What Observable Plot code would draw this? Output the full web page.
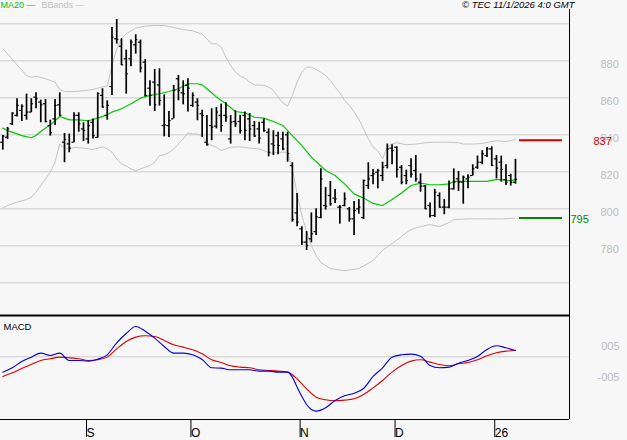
<!DOCTYPE html>
<html><head><meta charset="utf-8">
<script src="https://cdn.jsdelivr.net/npm/d3@7"></script>
<script src="https://cdn.jsdelivr.net/npm/@observablehq/plot@0.6"></script>
<style>
html,body{margin:0;padding:0;background:#f7f7f7;}
#chart{position:relative;width:627px;height:440px;background:#f7f7f7;overflow:hidden;font-family:"Liberation Sans",Arial,sans-serif;}
#chart svg{position:absolute;left:0;}
</style></head><body><div id="chart"></div>
<script>
// ---- OHLC bars (one per trading day, index 0 = first bar) ----
const open  = [836.0,838.7,846.0,850.5,853.2,850.5,852.3,860.4,857.7,856.8,845.0,848.6,856.2,836.0,835.1,836.0,850.5,843.2,837.8,846.8,838.6,861.3,850.5,866.1,891.9,887.9,881.1,881.1,888.6,890.1,879.3,865.2,868.5,867.0,845.0,845.0,848.6,870.3,862.7,866.7,855.9,857.7,851.4,836.0,845.0,844.7,850.5,850.5,837.8,847.2,847.2,850.5,848.6,845.0,843.2,846.8,841.4,835.1,839.6,837.8,840.0,823.4,797.8,789.2,782.0,783.8,787.7,795.3,801.8,807.2,805.8,800.9,801.8,800.0,794.6,800.0,795.3,812.6,818.0,819.8,818.0,823.4,832.8,833.3,822.5,818.0,823.4,820.7,814.4,812.3,801.8,796.4,807.2,800.9,800.9,810.8,816.2,814.4,816.2,818.0,822.5,825.2,828.8,832.4,827.0,825.2,815.8,818.0,814.4];
const high  = [839.6,844.0,851.9,859.5,856.2,862.0,859.5,862.7,858.7,859.1,847.9,859.1,862.7,840.7,840.4,851.9,851.9,846.5,847.7,848.6,862.7,864.9,858.4,898.0,902.3,891.9,885.8,891.2,894.1,891.2,880.7,869.2,875.3,875.7,861.6,852.6,866.7,872.1,869.2,870.3,862.7,859.5,853.3,850.5,854.1,854.8,856.6,857.3,850.5,853.0,850.5,852.3,851.5,847.2,846.8,848.6,843.2,842.2,841.4,841.4,841.4,824.9,808.3,790.3,787.7,797.8,800.0,821.6,811.5,814.8,810.5,801.8,808.6,800.7,804.0,805.0,815.5,824.9,821.3,821.3,825.2,835.0,834.6,833.5,823.4,820.9,827.0,828.8,818.9,812.6,803.2,810.5,808.6,805.0,815.1,821.6,820.2,817.7,818.4,823.8,828.5,831.4,833.2,833.5,828.8,828.5,823.8,818.7,826.7];
const low   = [831.7,837.5,845.0,849.6,847.2,847.9,851.9,854.1,846.5,846.5,839.3,845.0,850.1,824.9,830.3,835.7,841.4,836.4,835.0,837.8,838.2,854.4,847.9,861.3,889.0,877.5,862.0,876.8,883.6,873.5,860.5,855.5,852.6,855.5,838.9,838.6,848.6,858.4,856.2,852.3,854.8,847.6,838.6,833.9,836.8,843.2,841.4,846.8,835.0,844.0,840.4,836.8,836.4,838.6,835.0,841.4,828.1,828.8,829.2,831.4,825.2,792.8,790.3,780.2,777.5,781.6,785.6,794.6,799.3,801.4,802.9,791.7,801.1,792.8,785.6,797.1,794.2,810.5,813.0,810.8,814.8,821.6,823.8,816.6,813.0,813.0,816.6,814.4,809.0,799.6,795.0,795.3,800.4,796.8,800.0,810.1,809.4,802.5,810.8,817.7,821.3,823.8,827.7,823.1,816.2,814.4,812.6,812.3,813.3];
const close = [839.3,843.2,851.7,855.9,855.5,852.3,856.8,859.5,856.2,847.2,841.1,855.9,850.5,837.5,832.8,850.5,846.0,842.3,845.0,839.6,862.3,855.0,855.9,892.8,891.5,877.8,873.0,890.1,891.5,876.2,861.3,861.3,856.2,858.6,845.4,847.7,864.0,864.0,862.2,865.2,861.3,855.9,850.5,834.6,844.1,852.3,845.0,849.6,846.8,846.0,842.3,842.3,843.2,839.3,838.2,842.3,830.6,834.2,834.2,832.4,829.9,794.2,792.8,782.0,780.2,786.5,795.7,816.2,801.4,802.7,805.4,800.9,805.4,794.6,799.1,800.9,815.3,816.2,818.9,820.7,822.5,832.4,831.5,821.3,814.4,815.3,818.7,816.2,812.3,800.0,796.4,809.0,800.9,800.9,810.8,814.4,814.4,817.1,817.1,821.6,825.2,829.7,832.4,823.4,822.0,821.3,814.4,814.4,815.9];

// ---- MA20 (read at bar indices) ----
const maIdx = [0,1,3,4,6,7,8,10,12,13,14,16,18,20,22,23,25,27,29,31,33,35,37,39,41,42,43,44,45,47,49,51,53,55,57,59,60,61,63,65,66,68,70,72,74,76,78,80,82,84,86,88,90,92,94,95,98,102,104,106,107,108];
const maVal = [843.6,842.3,840.5,839.6,838.4,839.6,841.8,845.4,849.9,849.0,848.1,848.1,847.6,849.0,850.8,852.3,854.1,856.8,859.8,861.3,862.2,863.4,864.9,867.6,867.6,867.0,864.9,862.7,860.4,856.8,852.6,851.9,849.5,849.0,847.2,845.0,842.3,839.6,834.2,827.9,825.6,820.7,818.0,813.5,808.1,805.8,802.9,801.8,805.0,808.6,812.6,813.9,813.0,813.0,813.5,814.8,814.8,814.8,815.9,815.5,815.1,815.9];

// ---- Bollinger bands ----
const upIdx = [0,1,3,5,6,7,9,11,12,13,15,17,19,21,22,23,24,25,26,28,30,32,34,36,38,40,42,43,44,45,46,47,48,49,50,51,52,53,55,56,57,58,59,60,61,62,63,64,65,66,67,68,69,70,71,72,73,74,75,76,77,78,79,80,81,82,83,85,87,88,89,91,94,96,97,99,101,103,104,106,107,108];
const upVal = [886.5,883.8,877.8,872.1,871.0,871.7,870.3,868.5,864.5,863.4,863.4,863.8,864.5,865.9,866.3,877.5,886.5,891.9,894.6,897.7,898.7,899.1,899.1,898.0,896.9,896.2,894.4,891.9,889.2,889.2,887.4,882.0,877.5,873.9,871.7,870.6,868.5,867.0,866.7,865.8,864.0,860.4,857.3,855.5,861.3,868.5,873.9,876.6,876.6,875.3,873.9,872.1,869.4,865.8,862.7,858.6,855.9,852.3,848.6,843.2,837.8,833.3,831.5,827.0,833.3,835.1,835.7,834.6,835.0,835.3,835.7,836.0,836.0,835.7,835.0,835.0,835.3,836.4,836.8,836.4,836.8,837.5];
const loIdx = [0,1,3,5,6,7,8,9,10,11,12,13,14,15,17,19,21,22,23,24,25,26,27,28,29,30,31,32,33,34,35,36,37,38,39,40,41,42,43,44,45,46,47,48,50,52,54,55,56,57,58,60,61,62,63,64,65,66,67,69,72,75,78,80,82,84,85,86,88,90,92,94,95,98,102,105,108];
const loVal = [800.4,801.8,803.6,805.0,806.3,809.0,812.6,816.2,819.8,825.2,835.1,832.8,832.4,833.2,832.8,832.1,833.5,832.4,830.6,827.0,824.3,823.1,821.6,820.5,821.6,822.5,823.4,825.2,828.8,829.2,830.3,832.4,835.1,837.8,841.1,840.5,840.5,839.6,836.0,834.2,833.3,831.5,832.4,833.3,833.5,832.8,832.4,831.5,830.3,829.9,830.6,830.6,821.6,808.1,796.4,787.4,780.2,774.8,771.0,767.7,766.6,767.7,772.0,777.5,781.2,785.0,787.1,788.8,790.4,791.5,790.4,792.6,794.2,794.6,794.6,794.5,795.0];

// ---- MACD panel ----
const macdIdx = [0,2,4,6,8,10,12,14,16,18,20,22,24,26,28,30,32,34,36,38,40,42,44,46,48,50,52,54,56,58,60,61,62,63,64,65,66,67,68,70,72,74,76,78,80,82,84,86,88,90,92,94,96,98,100,102,104,106,108];
const macdVal = [-4.95,-3.55,-1.51,-0.11,1.18,0.42,1.18,-1.19,-1.19,-1.40,-0.76,0.64,4.51,7.52,9.78,8.27,6.02,3.33,1.18,1.18,0.64,-0.87,-3.55,-3.66,-4.20,-4.20,-4.20,-4.63,-4.63,-4.95,-4.95,-6.57,-9.79,-12.80,-15.38,-16.99,-17.53,-17.21,-16.46,-14.09,-12.59,-11.73,-10.22,-6.35,-3.55,-0.11,0.64,0.85,0.21,-2.80,-3.55,-3.34,-2.05,-1.19,0.10,2.36,3.54,2.90,2.04];
const sigIdx = [0,2,4,6,8,10,12,14,16,18,20,22,24,26,28,30,32,34,36,38,40,42,44,46,48,50,52,54,56,58,60,62,64,66,68,70,72,74,76,78,80,82,84,86,88,90,92,94,96,98,100,102,104,106,108];
const sigVal = [-6.35,-5.17,-3.77,-2.48,-1.19,-0.65,-0.11,-0.33,-0.65,-1.19,-0.97,-0.11,2.57,4.94,6.34,6.77,6.55,5.26,3.86,3.11,2.25,0.96,-0.97,-1.83,-2.91,-3.34,-3.55,-4.20,-4.41,-4.63,-4.95,-7.10,-10.33,-13.02,-13.88,-14.20,-13.99,-13.56,-12.16,-10.01,-7.64,-4.95,-2.80,-1.40,-0.97,-1.73,-2.48,-2.91,-2.26,-1.83,-0.97,0.32,1.28,1.82,2.04];

// ---- axis ticks / labels ----
const monthTickIdx = [17, 39, 62, 82, 103];
const monthLabels = ["S", "O", "N", "D", "26"];
const priceGrid = [760, 780, 800, 820, 840, 860, 880, 900];
const priceLabels = [780, 800, 820, 840, 860, 880];
const macdLabelVals = [5, -5];
const macdLabelText = ["005", "-005"];
const resistance = 837, support = 795;

// ---- layout ----
const FONT = "'Liberation Sans', Arial, sans-serif";
const xDomain = [-0.485, 119.38];
const mainY = [741.8, 912.6];
const macdY = [-20.23, 13.0];
const lastIdx = close.length - 1;

const bars = close.map((c, i) => ({i, o: open[i], h: high[i], l: low[i], c}));

const main = Plot.plot({
  width: 627, height: 316,
  marginLeft: 0, marginRight: 58, marginTop: 0, marginBottom: 0,
  style: {background: "transparent", fontFamily: FONT, overflow: "visible"},
  x: {domain: xDomain, axis: null},
  y: {domain: mainY, axis: null},
  marks: [
    Plot.ruleY(priceGrid, {stroke: "#cccccc", strokeWidth: 1}),
    Plot.line(upVal, {x: upIdx, y: upVal, stroke: "#c4c4c4", strokeWidth: 1}),
    Plot.line(loVal, {x: loIdx, y: loVal, stroke: "#c4c4c4", strokeWidth: 1}),
    Plot.line(maVal, {x: maIdx, y: maVal, stroke: "#00c800", strokeWidth: 1.2}),
    Plot.ruleX(bars, {x: "i", y1: "l", y2: "h", stroke: "#000", strokeWidth: 1.7}),
    Plot.ruleY(bars, {y: "o", x1: d => d.i - 0.45, x2: "i", stroke: "#000", strokeWidth: 1.2}),
    Plot.ruleY(bars, {y: "c", x1: "i", x2: d => d.i + 0.45, stroke: "#000", strokeWidth: 1.2}),
    Plot.ruleY([resistance], {x1: lastIdx + 0.85, x2: lastIdx + 9.9, stroke: "#cc0000", strokeWidth: 2}),
    Plot.ruleY([support], {x1: lastIdx + 0.85, x2: lastIdx + 9.9, stroke: "#008800", strokeWidth: 2}),
    Plot.text(priceLabels, {y: d => d, text: d => String(d), frameAnchor: "right", dx: 31, dy: 4, textAnchor: "start", fill: "#bdbdbd", fontSize: 11}),
    Plot.text([resistance], {y: d => d, text: d => String(d), frameAnchor: "right", dx: 24, dy: 1, textAnchor: "start", fill: "#cc0000", fontSize: 11}),
    Plot.text([support], {y: d => d, text: d => String(d), frameAnchor: "right", dx: 1, dy: 1, textAnchor: "start", fill: "#008800", fontSize: 11}),
    Plot.ruleX([xDomain[1]], {y1: 907.7, y2: mainY[0], stroke: "#000", strokeWidth: 1}),
    Plot.ruleY([742.3], {stroke: "#000", strokeWidth: 2}),
    Plot.text(["MA20 \u2014"], {text: d => d, frameAnchor: "top-left", dx: 0, dy: 1, textAnchor: "start", lineAnchor: "top", fill: "#00c000", fontSize: 9}),
    Plot.text(["BBands \u2014"], {text: d => d, frameAnchor: "top-left", dx: 41, dy: 1, textAnchor: "start", lineAnchor: "top", fill: "#c0c0c0", fontSize: 9}),
    Plot.text(["\u00a9 TEC 11/1/2026 4:0 GMT"], {text: d => d, frameAnchor: "top-right", dx: 5, dy: 1, textAnchor: "end", lineAnchor: "top", fill: "#000", fontSize: 9.5, fontStyle: "italic"})
  ]
});
main.style.top = "0px";

const macd = Plot.plot({
  width: 627, height: 124,
  marginLeft: 0, marginRight: 58, marginTop: 0, marginBottom: 21,
  style: {background: "transparent", fontFamily: FONT, overflow: "visible"},
  x: {domain: xDomain, axis: null},
  y: {domain: macdY, axis: null},
  marks: [
    Plot.ruleY([0], {stroke: "#cccccc"}),
    Plot.line(sigVal, {x: sigIdx, y: sigVal, stroke: "#dd0000", strokeWidth: 1.1, curve: "monotone-x"}),
    Plot.line(macdVal, {x: macdIdx, y: macdVal, stroke: "#0000dd", strokeWidth: 1.1, curve: "monotone-x"}),
    Plot.text(macdLabelVals, {y: d => d, text: (d, i) => macdLabelText[i], frameAnchor: "right", dx: 50, dy: 5, textAnchor: "end", fill: "#bdbdbd", fontSize: 11}),
    Plot.text(["MACD"], {text: d => d, frameAnchor: "top-left", dx: 3, dy: 7, textAnchor: "start", lineAnchor: "top", fill: "#000", fontSize: 9.5}),
    Plot.ruleY([macdY[0]], {stroke: "#000"}),
    Plot.ruleX([xDomain[1]], {y1: macdY[0], y2: macdY[1], stroke: "#000"}),
    Plot.axisX(monthTickIdx, {tickFormat: d => monthLabels[monthTickIdx.indexOf(d)], tickSize: 18, tickPadding: -9, textAnchor: "start", dx: 3, fontSize: 12, fill: "#000", stroke: "#000"})
  ]
});
macd.style.top = "316px";

const chart = document.getElementById("chart");
chart.appendChild(main);
chart.appendChild(macd);
</script></body></html>
